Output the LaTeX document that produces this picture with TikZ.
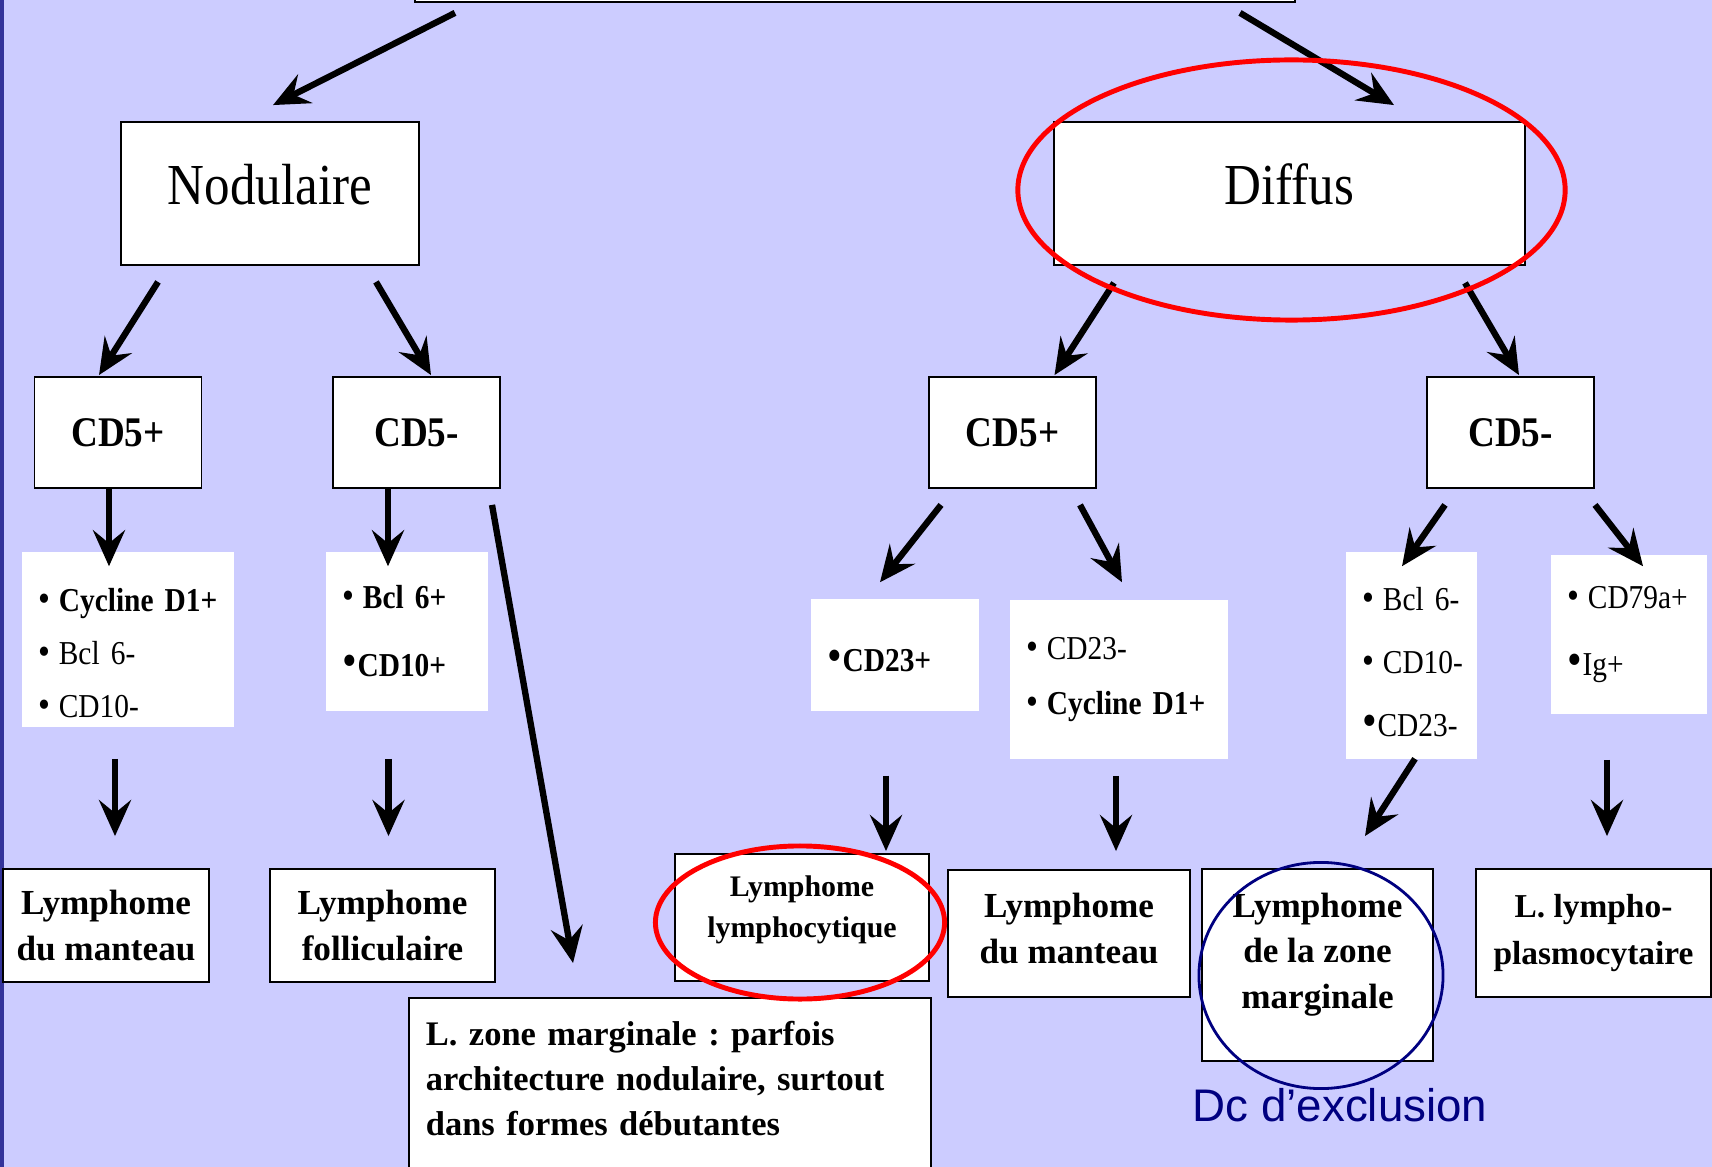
\documentclass[tikz,border=0pt]{standalone}
\usepackage{fontspec}
\setmainfont{Liberation Serif}
\newfontfamily\narrowserif{Liberation Serif}[FakeStretch=0.88]
\newfontfamily\arialfont{Liberation Sans}
\usetikzlibrary{positioning, calc, arrows.meta}

\definecolor{lavbg}{HTML}{CCCCFF}
\definecolor{stripblue}{HTML}{33339A}
\definecolor{navyink}{HTML}{000080}
\definecolor{redmark}{HTML}{FF0000}
\newcommand{\smbul}{{\fontsize{11}{11}\selectfont •}\kern0.08cm}
\newcommand{\bigbul}{{\fontsize{13.5}{12}\selectfont •}}
\newcommand{\topstrut}[1]{\rule{0pt}{#1}}
\hyphenpenalty=10000
\exhyphenpenalty=10000
\frenchspacing

\tikzset{
  box/.style={draw=black, line width=0.5pt, fill=white, inner sep=0pt, align=center},
  headbox/.style={box, minimum height=1.43cm, text height=0.4cm, text depth=0.19cm, font=\narrowserif\fontsize{16.5}{20}\selectfont},
  cdbox/.style={box, minimum width=1.67cm, minimum height=1.11cm, font=\narrowserif\bfseries\fontsize{12}{14}\selectfont},
  markbox/.style={fill=white, inner xsep=0.17cm, inner ysep=0pt, align=left},
  outbox/.style={box, font=\bfseries\fontsize{10}{13}\selectfont},
  arr/.style={-{Stealth[length=0.36cm,width=0.32cm,inset=0.13cm]}, line width=1.8pt},
  redring/.style={draw=redmark, line width=1.4pt},
  navyring/.style={draw=navyink, line width=0.8pt}
}

\begin{document}
\begin{tikzpicture}[x=0.01cm, y=-0.01cm]
\useasboundingbox (0,0) rectangle (1712,1167);
\clip (0,0) rectangle (1712,1167);
\fill[lavbg] (0,0) rectangle (1712,1167);
\fill[stripblue] (0,0) rectangle (3.5,1167);

\node[box, minimum width=8.8cm, minimum height=0.42cm] (root) at (855,-19) {};
\node[headbox, minimum width=2.98cm] (nod) at (270,193.5) {Nodulaire};
\node[headbox, minimum width=4.71cm] (dif) at (1289.5,193.5) {Diffus};

\node[cdbox] (nodp) at (118,432.5) {CD5+};
\node[cdbox] (nodm) at (416.5,432.5) {CD5-};
\node[cdbox] (difp) at (1012.5,432.5) {CD5+};
\node[cdbox] (difm) at (1510.5,432.5) {CD5-};

\node[markbox, minimum width=2.12cm, minimum height=1.75cm, text width=1.78cm, font=\narrowserif\fontsize{9.5}{15.1}\selectfont] (mkA) at (128,639.5) {\topstrut{0.51cm}\smbul\textbf{Cycline~D1+}\\\smbul Bcl~6-\\\smbul CD10-};
\node[markbox, minimum width=1.62cm, minimum height=1.59cm, text width=1.28cm, font=\narrowserif\fontsize{9.5}{19.3}\selectfont] (mkB) at (407,631.5) {\smbul\textbf{Bcl~6+}\\\bigbul\textbf{CD10+}};
\node[markbox, minimum width=1.68cm, minimum height=1.12cm, text width=1.34cm, font=\narrowserif\fontsize{9.5}{15}\selectfont] (mkC) at (895,655) {\topstrut{0.34cm}\bigbul\textbf{CD23+}};
\node[markbox, minimum width=2.18cm, minimum height=1.59cm, text width=1.84cm, font=\narrowserif\fontsize{9.5}{15.9}\selectfont] (mkD) at (1119,679.5) {\smbul CD23-\\\smbul\textbf{Cycline~D1+}};
\node[markbox, minimum width=1.31cm, minimum height=2.07cm, text width=0.97cm, font=\narrowserif\fontsize{9.5}{17.9}\selectfont] (mkE) at (1411.5,655.5) {\topstrut{0.36cm}\smbul Bcl~6-\\\smbul CD10-\\\bigbul CD23-};
\node[markbox, minimum width=1.56cm, minimum height=1.59cm, text width=1.22cm, font=\narrowserif\fontsize{9.5}{19.3}\selectfont] (mkF) at (1629,634.5) {\smbul CD79a+\\\bigbul Ig+};

\node[outbox, minimum width=2.06cm, minimum height=1.13cm] (manA) at (106,925.5) {Lymphome\\du manteau};
\node[outbox, minimum width=2.25cm, minimum height=1.13cm] (folB) at (382.5,925.5) {Lymphome\\folliculaire};
\node[outbox, minimum width=2.54cm, minimum height=1.27cm, text depth=0.217cm, font=\bfseries\fontsize{8.5}{11.7}\selectfont] (lymC) at (802,917.5) {Lymphome\\lymphocytique};
\node[outbox, minimum width=2.42cm, minimum height=1.27cm, text depth=0.11cm] (manD) at (1069,933.5) {Lymphome\\du manteau};
\node[outbox, minimum width=2.31cm, minimum height=1.92cm, text depth=0.284cm] (zmE) at (1317.5,965) {Lymphome\\de la zone\\marginale};
\node[outbox, minimum width=2.35cm, minimum height=1.28cm, font=\bfseries\fontsize{9.5}{13.2}\selectfont] (lplF) at (1593.5,933) {L. lympho-\\plasmocytaire};
\node[box, anchor=north west, inner xsep=0.17cm, inner ysep=0.23cm, text width=4.88cm, align=left, text depth=1.5cm, font=\bfseries\fontsize{9.8}{12.9}\selectfont] (lzG) at (408,997) {L. zone marginale : parfois\\architecture nodulaire, surtout\\dans formes débutantes};

\draw[arr] ($(root.south)+(-400,10)$) -- ($(nod.north)+(3,-16)$);
\draw[arr] ($(root.south)+(385,10)$) -- ($(dif.north)+(104.5,-16)$);
\draw[arr] ($(nod.south)+(-112,16)$) -- ($(nodp.north)+(-19,-1)$);
\draw[arr] ($(nod.south)+(106,16)$) -- ($(nodm.north)+(14.5,-1)$);
\draw[arr] ($(dif.south)+(-175.5,17)$) -- ($(difp.north)+(42,-1)$);
\draw[arr] ($(dif.south)+(175.5,17)$) -- ($(difm.north)+(8.5,-1)$);
\draw[arr] ($(nodp.south)+(-9,0)$) -- ($(mkA.north)+(-19,15)$);
\draw[arr] ($(nodm.south)+(-28.5,0)$) -- ($(mkB.north)+(-19,15)$);
\draw[arr] ($(nodm.south)+(75.5,16)$) -- ($(lzG.north)+(-97,-34)$);
\draw[arr] ($(difp.south)+(-71.5,16)$) -- ($(mkC.north)+(-15,-16)$);
\draw[arr] ($(difp.south)+(67.5,16)$) -- ($(mkD.north)+(3,-17)$);
\draw[arr] ($(difm.south)+(-65.5,16)$) -- ($(mkE.north)+(-9.5,15)$);
\draw[arr] ($(difm.south)+(84.5,16)$) -- ($(mkF.north)+(14,12)$);
\draw[arr] ($(mkA.south)+(-13,31)$) -- ($(manA.north)+(9,-32)$);
\draw[arr] ($(mkB.south)+(-18.5,47)$) -- ($(folB.north)+(6,-32)$);
\draw[arr] ($(mkC.south)+(-9,64)$) -- ($(lymC.north)+(84,-2)$);
\draw[arr] ($(mkD.south)+(-3,16)$) -- ($(manD.north)+(47,-18)$);
\draw[arr] ($(mkE.south)+(3.5,-1)$) -- ($(zmE.north)+(47.5,-32)$);
\draw[arr] ($(mkF.south)+(-22,45)$) -- ($(lplF.north)+(13.5,-32)$);

\draw[redring] ($(dif.center)+(2,-3.5)$) ellipse [x radius=2.735cm, y radius=1.30cm];
\draw[redring] ($(lymC.center)+(-2,5)$) ellipse [x radius=1.445cm, y radius=0.765cm];
\draw[navyring] ($(zmE.center)+(3.5,10.5)$) ellipse [x radius=1.22cm, y radius=1.13cm];
\node[below=0.26cm of zmE, xshift=0.225cm, inner sep=0pt, text=navyink, font=\arialfont\fontsize{13}{15}\selectfont] (dcx) {Dc d’exclusion};
\end{tikzpicture}
\end{document}
